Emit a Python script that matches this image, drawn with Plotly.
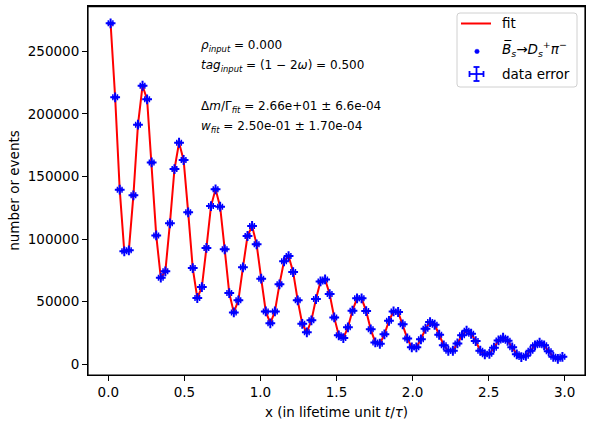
import numpy as np
import plotly.graph_objects as go

# ---- data ----
x_centers = [round(0.015 + 0.03 * k, 3) for k in range(100)]
counts = [
    272400, 213300, 139500, 90250, 91050, 135000, 191400, 222500, 211650, 161300,
    103000, 69200, 74300, 112600, 156000, 177000, 163200, 121400, 76900, 53000,
    61700, 93000, 126400, 139800, 125900, 91850, 56950, 41500, 51100, 77500,
    102500, 110500, 95850, 68400, 42300, 32750, 42300, 63900, 82300, 86500,
    73700, 51100, 32400, 25550, 35150, 52150, 66200, 67800, 56150, 37500,
    23150, 21000, 29550, 42800, 52700, 52700, 42550, 27950, 17550, 16450,
    23950, 34800, 42300, 41800, 31950, 20750, 13600, 13600, 20000, 28450,
    33800, 31650, 23650, 15200, 10850, 10850, 16750, 23150, 26850, 24450,
    18600, 10850, 8000, 8450, 13250, 19150, 21250, 18850, 13600, 8000,
    5850, 6850, 10850, 15200, 17250, 15200, 10400, 6050, 4450, 6050,
]
fit_values = list(counts)
x_half_width = [0.015] * len(x_centers)
y_errors = [float(np.sqrt(c)) for c in counts]

x_tick_vals = [0.0, 0.5, 1.0, 1.5, 2.0, 2.5, 3.0]
x_tick_text = ["0.0", "0.5", "1.0", "1.5", "2.0", "2.5", "3.0"]
y_tick_vals = [0, 50000, 100000, 150000, 200000, 250000]
y_tick_text = ["0", "50000", "100000", "150000", "200000", "250000"]

info_lines = [
    "<i>ρ<sub>input</sub></i> = 0.000",
    "<i>tag<sub>input</sub></i> = (1 − 2<i>ω</i>) = 0.500",
    "Δ<i>m</i>/Γ<sub><i>fit</i></sub> = 2.66e+01 ± 6.6e-04",
    "<i>w<sub>fit</sub></i> = 2.50e-01 ± 1.70e-04",
]
legend_labels = [
    "fit",
    "<i>B̅<sub>s</sub></i>→<i>D<sub>s</sub><sup>+</sup>π<sup>−</sup></i>",
    "data error",
]

FONT = "DejaVu Sans, Liberation Sans, sans-serif"
BLUE, RED = "#0000ff", "#ff0000"
W, H = 609, 425
L, R, T, B = 88, 24, 6, 50
pw, ph = W - L - R, H - T - B


def py(ypx):
    return 1 - (ypx - T) / ph


def px(xpx):
    return (xpx - L) / pw


fig = go.Figure()
fig.add_trace(go.Scatter(
    x=x_centers, y=fit_values, mode="lines", name=legend_labels[0],
    line=dict(color=RED, width=2),
))
fig.add_trace(go.Scatter(
    x=x_centers, y=counts, mode="markers", name=legend_labels[1],
    marker=dict(color=BLUE, size=4),
))
fig.add_trace(go.Scatter(
    x=x_centers, y=counts, mode="markers", name=legend_labels[2],
    marker=dict(color=BLUE, size=7, symbol="cross-thin",
                line=dict(color=BLUE, width=2)),
    error_x=dict(type="data", array=x_half_width, color=BLUE,
                 thickness=1.5, width=3),
    error_y=dict(type="data", array=y_errors, color=BLUE,
                 thickness=1.5, width=3),
))

for txt, yc in zip(info_lines, [46, 66, 107, 127]):
    fig.add_annotation(
        text=txt, xref="paper", yref="paper", x=px(199), y=py(yc),
        xanchor="left", yanchor="middle", showarrow=False,
        font=dict(family=FONT, size=12, color="black"),
    )

# plot frame (all four spines) + explicit top spine
shapes = [dict(type="rect", xref="paper", yref="paper", x0=0, x1=1, y0=0, y1=1,
               line=dict(color="black", width=1.2), layer="above"),
          dict(type="line", xref="paper", yref="paper", x0=0, x1=1,
               y0=py(6.6), y1=py(6.6), line=dict(color="black", width=1.2),
               layer="above")]

# ---- legend box drawn by hand (matplotlib style) ----
bx0, bx1, by0, by1, rr = 457, 577, 13, 87, 3
path = (
    f"M {px(bx0 + rr)},{py(by0)} L {px(bx1 - rr)},{py(by0)} "
    f"Q {px(bx1)},{py(by0)} {px(bx1)},{py(by0 + rr)} "
    f"L {px(bx1)},{py(by1 - rr)} Q {px(bx1)},{py(by1)} {px(bx1 - rr)},{py(by1)} "
    f"L {px(bx0 + rr)},{py(by1)} Q {px(bx0)},{py(by1)} {px(bx0)},{py(by1 - rr)} "
    f"L {px(bx0)},{py(by0 + rr)} Q {px(bx0)},{py(by0)} {px(bx0 + rr)},{py(by0)} Z"
)
shapes.append(dict(type="path", xref="paper", yref="paper", path=path,
                   line=dict(color="#d0d0d0", width=1),
                   fillcolor="rgba(255,255,255,0.8)", layer="above"))
shapes.append(dict(type="line", xref="paper", yref="paper",
                   x0=px(461), x1=px(491), y0=py(23.5), y1=py(23.5),
                   line=dict(color=RED, width=2), layer="above"))
shapes.append(dict(type="circle", xref="paper", yref="paper",
                   x0=px(474.8), x1=px(479.2), y0=py(49.2), y1=py(53.6),
                   line=dict(color=BLUE, width=0.5), fillcolor=BLUE, layer="above"))
ex, ey = 476.5, 74
for (x0, y0, x1, y1) in [
    (ex - 7, ey, ex + 7, ey), (ex, ey - 7, ex, ey + 7),
    (ex - 7, ey - 3, ex - 7, ey + 3), (ex + 7, ey - 3, ex + 7, ey + 3),
    (ex - 3, ey - 7, ex + 3, ey - 7), (ex - 3, ey + 7, ex + 3, ey + 7),
]:
    shapes.append(dict(type="line", xref="paper", yref="paper",
                       x0=px(x0), x1=px(x1), y0=py(y0), y1=py(y1),
                       line=dict(color=BLUE, width=1.8), layer="above"))

for txt, yc in zip(legend_labels, [23, 49, 74]):
    fig.add_annotation(
        text=txt, xref="paper", yref="paper", x=px(500), y=py(yc),
        xanchor="left", yanchor="middle", showarrow=False,
        font=dict(family=FONT, size=13.5, color="black"),
    )

fig.update_layout(
    width=W, height=H,
    margin=dict(l=L, r=R, t=T, b=B, pad=0),
    paper_bgcolor="white", plot_bgcolor="white",
    font=dict(family=FONT, size=13.5, color="black"),
    showlegend=False,
    shapes=shapes,
    xaxis=dict(
        range=[-0.1335, 3.1335], tickvals=x_tick_vals, ticktext=x_tick_text,
        showline=True, mirror=True, linecolor="black", linewidth=1,
        ticks="outside", ticklen=5, tickcolor="black", showgrid=False,
        zeroline=False, automargin=False,
        title=dict(text="x (in lifetime unit <i>t</i>/<i>τ</i>)",
                   font=dict(size=13.5), standoff=8),
    ),
    yaxis=dict(
        range=[-8500, 286200], tickvals=y_tick_vals, ticktext=y_tick_text,
        showline=True, mirror=True, linecolor="black", linewidth=1,
        ticks="outside", ticklen=5, tickcolor="black", showgrid=False,
        zeroline=False, automargin=False,
        title=dict(text="number or events", font=dict(size=13.5), standoff=5),
    ),
)

fig.write_html(
    "out.html", config={"displayModeBar": False},
    post_script=("document.body.style.margin='0px';"
                 "document.documentElement.style.overflow='hidden';"
                 "window.scrollTo(0,0);"),
)
